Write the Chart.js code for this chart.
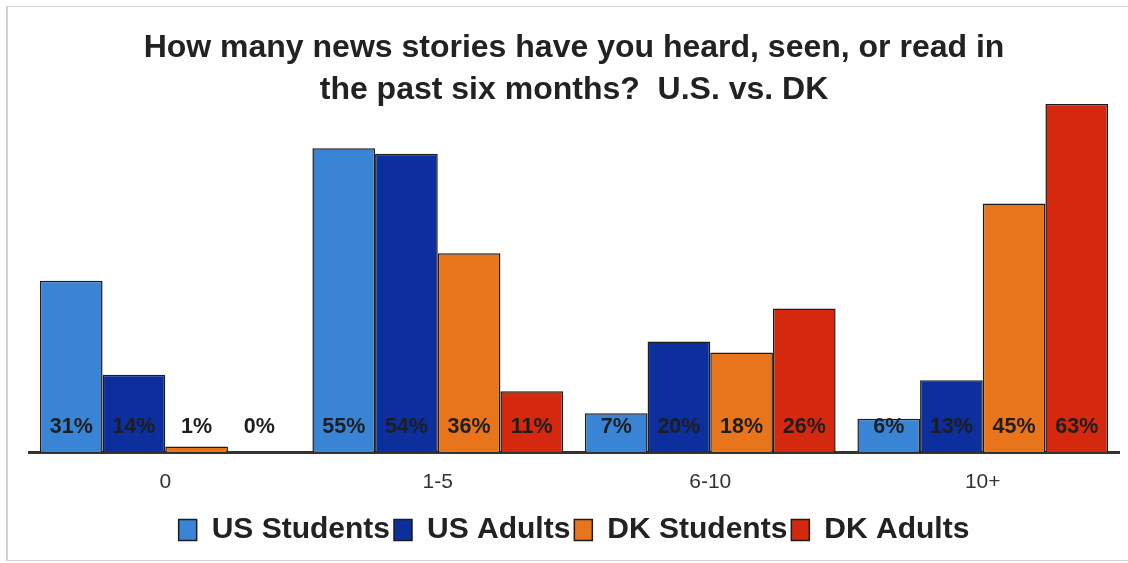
<!DOCTYPE html>
<html>
<head>
<meta charset="utf-8">
<script src="https://cdn.jsdelivr.net/npm/chart.js@4/dist/chart.umd.min.js"></script>
<style>
    body { margin: 0; background: #fff; }
    .wrap { position: relative; width: 1128px; height: 563px; overflow: hidden; }
    .frame { position: absolute; left: 6px; top: 6px; width: 1130px; height: 553px; border: 1px solid #d2d2d2; border-left-width: 2px; }
    #newsChart { position: absolute; left: 0; top: 0; }
</style>
</head>
<body>
<div class="wrap">
    <div class="frame"></div>
    <canvas id="newsChart" width="1128" height="563"></canvas>
</div>
<script>
const categories = ['0', '1-5', '6-10', '10+'];
const usStudents = [31, 55, 7, 6];
const usAdults = [14, 54, 20, 13];
const dkStudents = [1, 36, 18, 45];
const dkAdults = [0, 11, 26, 63];
const titleLines = ['How many news stories have you heard, seen, or read in', 'the past six months?  U.S. vs. DK'];

const FONT = "'Liberation Sans', Arial, Helvetica, sans-serif";

// Percent labels sit at a fixed height just above the baseline
const valueLabels = {
    id: 'valueLabels',
    afterDatasetsDraw(chart) {
        const ctx = chart.ctx;
        const base = chart.scales.y.getPixelForValue(0);
        ctx.save();
        ctx.font = 'bold 21.5px ' + FONT;
        ctx.fillStyle = '#1e1e1e';
        ctx.textAlign = 'center';
        ctx.textBaseline = 'middle';
        chart.data.datasets.forEach((ds, i) => {
            chart.getDatasetMeta(i).data.forEach((bar, j) => {
                ctx.fillText(ds.data[j] + '%', bar.x, base - 25);
            });
        });
        ctx.restore();
    }
};

function makeDataset(label, values, color) {
    return {
        label: label,
        data: values,
        backgroundColor: color,
        borderColor: '#1c1c1c',
        borderWidth: 1.5
    };
}

const canvas = document.getElementById('newsChart');

new Chart(canvas, {
    type: 'bar',
    data: {
        labels: categories,
        datasets: [
            makeDataset('US Students', usStudents, '#3a84d5'),
            makeDataset('US Adults', usAdults, '#0d2f9e'),
            makeDataset('DK Students', dkStudents, '#e8751c'),
            makeDataset('DK Adults', dkAdults, '#d4290f')
        ]
    },
    options: {
        responsive: false,
        animation: false,
        layout: {
            padding: { left: 29, right: 9, top: 0, bottom: 8 }
        },
        datasets: {
            bar: {
                categoryPercentage: 0.92,
                barPercentage: 1.0
            }
        },
        plugins: {
            title: {
                display: true,
                text: titleLines,
                color: '#222',
                font: { family: FONT, size: 32, weight: 'bold', lineHeight: 1.3125 },
                padding: { top: 27, bottom: -18 }
            },
            legend: {
                position: 'bottom',
                labels: {
                    color: '#222',
                    font: { family: FONT, size: 30, weight: 'bold' },
                    boxWidth: 18,
                    boxHeight: 21,
                    padding: 4
                }
            },
            tooltip: { enabled: false }
        },
        scales: {
            x: {
                grid: { display: false, drawTicks: false },
                border: { display: true, color: '#333', width: 3 },
                ticks: {
                    color: '#333',
                    font: { family: FONT, size: 21 },
                    padding: 18
                },
                afterFit: function(axis) {
                    axis.height = 59;
                }
            },
            y: {
                display: false,
                min: 0,
                max: 65
            }
        }
    },
    plugins: [valueLabels]
});
</script>
</body>
</html>
